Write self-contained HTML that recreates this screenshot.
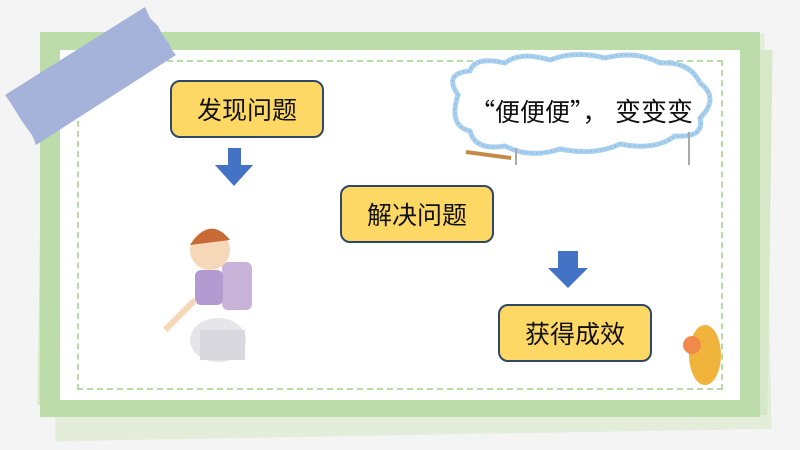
<!DOCTYPE html>
<html><head><meta charset="utf-8"><style>
body{margin:0;width:800px;height:450px;background:#f4f4f4;position:relative;overflow:hidden;font-family:"Liberation Sans","Noto Sans CJK SC",sans-serif}
.a{position:absolute}
.box{position:absolute;background:#fdd865;border:2px solid #2f4865;border-radius:10px;font-size:25px;color:#111;display:flex;align-items:center;justify-content:center;box-sizing:border-box;width:154px;height:58px}
</style></head><body>
<div class="a" style="left:52px;top:40px;width:716px;height:395px;background:#e3edd9;transform:rotate(-1deg)"></div>
<div class="a" style="left:40px;top:45px;width:730px;height:365px;background:#d6e8c8;transform:rotate(0.8deg)"></div>
<div class="a" style="left:40px;top:32px;width:720px;height:385px;background:#bcdcaa"></div>
<div class="a" style="left:60px;top:50px;width:680px;height:350px;background:#fff"></div>
<div class="a" style="left:77px;top:60px;width:646px;height:330px;border:2px dashed #b9dca7;box-sizing:border-box"></div>
<svg class="a" style="left:0;top:0" width="800" height="450">
<polygon points="5,95 145,7 150,18 158,26 162,34 168,42 172,50 176,55 36,145 32,135 26,127 20,118 15,110 10,102" fill="#a5b3db"/>
<path d="M458,95 q-15,-22 12,-24 q5,-15 35,-8 q15,-12 45,-3 q25,-10 55,-2 q30,-8 55,5 q30,-2 40,20 q20,15 0,35 q5,20 -25,18 q-20,15 -55,8 q-25,12 -60,5 q-30,10 -55,-3 q-30,5 -35,-15 q-22,-5 -12,-36z" fill="#fff" stroke="#a8d0ee" stroke-width="5"/>
<path d="M458,95 q-15,-22 12,-24 q5,-15 35,-8 q15,-12 45,-3 q25,-10 55,-2 q30,-8 55,5 q30,-2 40,20 q20,15 0,35 q5,20 -25,18 q-20,15 -55,8 q-25,12 -60,5 q-30,10 -55,-3 q-30,5 -35,-15 q-22,-5 -12,-36z" fill="none" stroke="#7fb2dc" stroke-width="1.5" stroke-dasharray="1 4"/>
<text x="470" y="121" font-size="25" fill="#111" font-family="Noto Sans CJK SC,sans-serif">“便便便”，</text>
<text x="615" y="121" font-size="26" fill="#111" font-family="Noto Sans CJK SC,sans-serif">变变变</text>
<path d="M466,152 l45,6" stroke="#c48a48" stroke-width="4"/>
<line x1="516" y1="148" x2="516" y2="165" stroke="#aaa" stroke-width="2"/>
<line x1="689" y1="132" x2="689" y2="165" stroke="#aaa" stroke-width="2"/>
<polygon points="228,148 241,148 241,165 253,165 234,186 215,165 228,165" fill="#4472c4"/>
<polygon points="558,251 578,251 578,268 588,268 568,288 548,268 558,268" fill="#4472c4"/>
<ellipse cx="218" cy="340" rx="28" ry="22" fill="#e6e6ea"/>
<rect x="200" y="330" width="45" height="30" fill="#d8d8de"/>
<rect x="222" y="262" width="30" height="48" rx="6" fill="#c9b3d8"/>
<circle cx="210" cy="250" r="20" fill="#f6d7b8"/>
<path d="M190,245 q20,-30 40,-5" fill="#c86a35"/>
<rect x="195" y="270" width="28" height="35" rx="6" fill="#b39ad1"/>
<path d="M195,300 l-30,30" stroke="#f6d7b8" stroke-width="6"/>
<ellipse cx="705" cy="355" rx="16" ry="30" fill="#f0b43c"/>
<circle cx="692" cy="345" r="9" fill="#f08a4b"/>
</svg>
<div class="box" style="left:170px;top:80px">发现问题</div>
<div class="box" style="left:340px;top:185px">解决问题</div>
<div class="box" style="left:498px;top:304px">获得成效</div>
</body></html>
